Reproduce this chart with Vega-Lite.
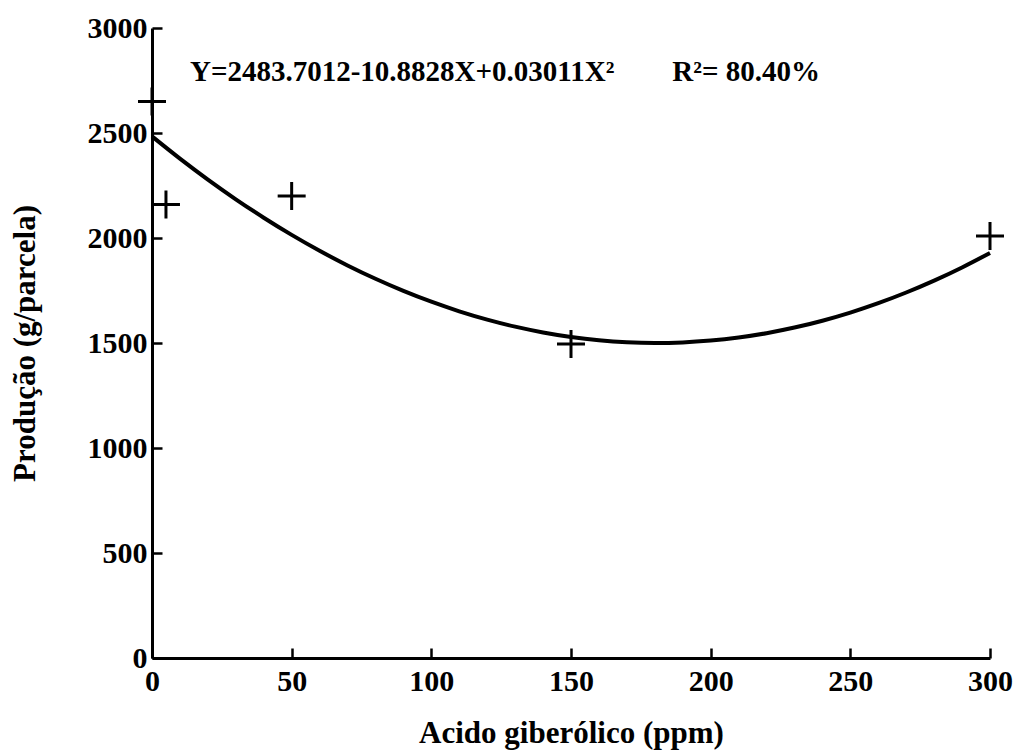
{
  "$schema": "https://vega.github.io/schema/vega-lite/v6.json",
  "autosize": "none",
  "width": 838,
  "height": 630,
  "padding": {"left": 152, "top": 28, "right": 28, "bottom": 94},
  "background": "white",
  "config": {
    "view": {"stroke": null},
    "axis": {
      "grid": false,
      "domainColor": "black",
      "domainWidth": 3,
      "tickColor": "black",
      "tickWidth": 2.5,
      "tickSize": -10,
      "labelFont": "Liberation Serif",
      "labelFontWeight": "bold",
      "labelFontSize": 30,
      "labelColor": "black",
      "labelFlush": false,
      "titleFont": "Liberation Serif",
      "titleFontWeight": "bold",
      "titleFontSize": 31,
      "titleColor": "black"
    }
  },
  "datasets": {
    "obs": [
      {"acido": 0, "producao": 2650},
      {"acido": 5, "producao": 2160},
      {"acido": 50, "producao": 2200},
      {"acido": 150, "producao": 1495},
      {"acido": 300, "producao": 2010}
    ],
    "fit": [
      {"acido": 0, "producao": 2483.7},
      {"acido": 10, "producao": 2377.9},
      {"acido": 20, "producao": 2278.1},
      {"acido": 30, "producao": 2184.3},
      {"acido": 40, "producao": 2096.6},
      {"acido": 50, "producao": 2014.8},
      {"acido": 60, "producao": 1939.1},
      {"acido": 70, "producao": 1869.4},
      {"acido": 80, "producao": 1805.8},
      {"acido": 90, "producao": 1748.1},
      {"acido": 100, "producao": 1696.5},
      {"acido": 110, "producao": 1650.9},
      {"acido": 120, "producao": 1611.4},
      {"acido": 130, "producao": 1577.8},
      {"acido": 140, "producao": 1550.3},
      {"acido": 150, "producao": 1528.8},
      {"acido": 160, "producao": 1513.3},
      {"acido": 170, "producao": 1503.8},
      {"acido": 180, "producao": 1500.4},
      {"acido": 190, "producao": 1502.9},
      {"acido": 200, "producao": 1511.5},
      {"acido": 210, "producao": 1526.2},
      {"acido": 220, "producao": 1546.8},
      {"acido": 230, "producao": 1573.5},
      {"acido": 240, "producao": 1606.2},
      {"acido": 250, "producao": 1644.9},
      {"acido": 260, "producao": 1689.6},
      {"acido": 270, "producao": 1740.4},
      {"acido": 280, "producao": 1797.1},
      {"acido": 290, "producao": 1859.9},
      {"acido": 300, "producao": 1928.8}
    ],
    "label": [
      {"acido": 13.6, "producao": 2750, "texto": "Y=2483.7012-10.8828X+0.03011X²\u00a0\u00a0\u00a0\u00a0\u00a0\u00a0\u00a0\u00a0R²= 80.40%"}
    ]
  },
  "encoding": {
    "x": {
      "field": "acido",
      "type": "quantitative",
      "scale": {"domain": [0, 300], "nice": false},
      "axis": {"values": [0, 50, 100, 150, 200, 250, 300], "format": "d", "title": "Acido giberólico (ppm)", "labelPadding": 18, "titlePadding": 22}
    },
    "y": {
      "field": "producao",
      "type": "quantitative",
      "scale": {"domain": [0, 3000], "nice": false},
      "axis": {"values": [0, 500, 1000, 1500, 2000, 2500, 3000], "format": "d", "title": "Produção (g/parcela)", "labelPadding": 15, "titlePadding": 46}
    }
  },
  "layer": [
    {
      "data": {"name": "fit"},
      "mark": {"type": "line", "color": "black", "strokeWidth": 4, "interpolate": "monotone"}
    },
    {
      "data": {"name": "obs"},
      "mark": {"type": "point", "shape": "M-1,0H1M0,-1V1", "size": 784, "filled": false, "stroke": "black", "strokeWidth": 3, "opacity": 1}
    },
    {
      "data": {"name": "label"},
      "mark": {"type": "text", "align": "left", "baseline": "alphabetic", "font": "Liberation Serif", "fontWeight": "bold", "fontSize": 29, "color": "black"},
      "encoding": {"text": {"field": "texto"}}
    }
  ]
}
